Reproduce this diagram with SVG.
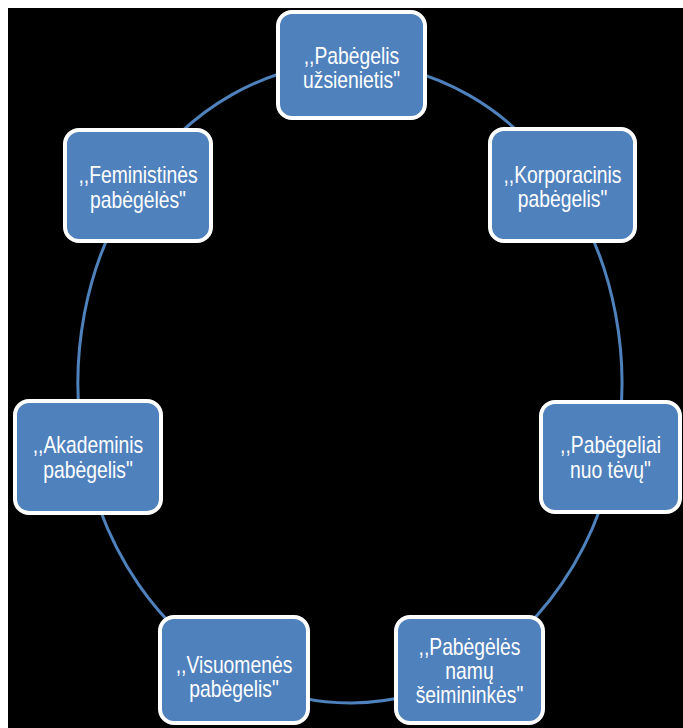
<svg xmlns="http://www.w3.org/2000/svg" width="683" height="728" viewBox="0 0 683 728">
<style>
.box{fill:#4F81BD;stroke:#FFFFFF;stroke-width:4}
.lbl{font-family:"Liberation Sans",Arial,sans-serif;font-size:23px;fill:#FFFFFF;text-anchor:middle}
.arc{fill:none;stroke:#4F81BD;stroke-width:3}
</style>
<rect x="0" y="0" width="683" height="728" fill="#FFFFFF"/>
<rect x="8" y="8" width="675" height="720" fill="#000000"/>
<g id="connectors">
<path class="arc" d="M350,63 A272,320 0 0 1 563.2,184.3"/>
<path class="arc" d="M563.2,184.3 A272,320 0 0 1 614.4,457.9"/>
<path class="arc" d="M614.4,457.9 A272,320 0 0 1 469.7,670.4"/>
<path class="arc" d="M469.7,670.4 A272,320 0 0 1 233.2,672"/>
<path class="arc" d="M233.2,672 A272,320 0 0 1 85.4,457.7"/>
<path class="arc" d="M85.4,457.7 A272,320 0 0 1 136.8,184.3"/>
<path class="arc" d="M136.8,184.3 A272,320 0 0 1 350,63"/>
</g>
<g id="node1">
<rect class="box" x="278" y="12" width="147" height="106" rx="14"/>
<text class="lbl" transform="matrix(0.84 0 0 1 351.5 0)" x="0" y="64">,,Pabėgelis</text>
<text class="lbl" transform="matrix(0.84 0 0 1 351.5 0)" x="0" y="88">užsienietis"</text>
</g>
<g id="node2">
<rect class="box" x="490" y="129" width="145" height="112" rx="14"/>
<text class="lbl" transform="matrix(0.84 0 0 1 562.5 0)" x="0" y="183">,,Korporacinis</text>
<text class="lbl" transform="matrix(0.84 0 0 1 562.5 0)" x="0" y="207">pabėgelis"</text>
</g>
<g id="node3">
<rect class="box" x="541" y="402" width="139" height="110" rx="14"/>
<text class="lbl" transform="matrix(0.84 0 0 1 610.5 0)" x="0" y="453">,,Pabėgeliai</text>
<text class="lbl" transform="matrix(0.84 0 0 1 610.5 0)" x="0" y="478">nuo tėvų"</text>
</g>
<g id="node4">
<rect class="box" x="396" y="617" width="147" height="106" rx="14"/>
<text class="lbl" transform="matrix(0.84 0 0 1 469.5 0)" x="0" y="655">,,Pabėgėlės</text>
<text class="lbl" transform="matrix(0.84 0 0 1 469.5 0)" x="0" y="679">namų</text>
<text class="lbl" transform="matrix(0.84 0 0 1 469.5 0)" x="0" y="703">šeimininkės"</text>
</g>
<g id="node5">
<rect class="box" x="160" y="617" width="148" height="106" rx="14"/>
<text class="lbl" transform="matrix(0.84 0 0 1 234 0)" x="0" y="673">,,Visuomenės</text>
<text class="lbl" transform="matrix(0.84 0 0 1 234 0)" x="0" y="697">pabėgelis"</text>
</g>
<g id="node6">
<rect class="box" x="15" y="401" width="146" height="112" rx="14"/>
<text class="lbl" transform="matrix(0.84 0 0 1 88 0)" x="0" y="453">,,Akademinis</text>
<text class="lbl" transform="matrix(0.84 0 0 1 88 0)" x="0" y="478">pabėgelis"</text>
</g>
<g id="node7">
<rect class="box" x="65" y="130" width="146" height="111" rx="14"/>
<text class="lbl" transform="matrix(0.84 0 0 1 138 0)" x="0" y="183">,,Feministinės</text>
<text class="lbl" transform="matrix(0.84 0 0 1 138 0)" x="0" y="208">pabėgėlės"</text>
</g>
</svg>
